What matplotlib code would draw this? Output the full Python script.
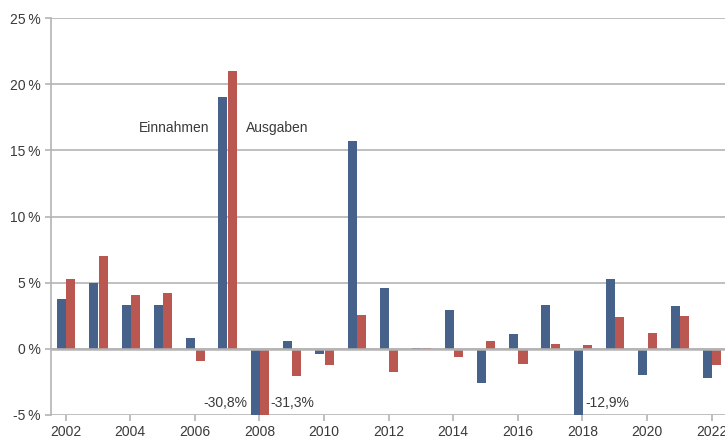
# growth rates of revenue (Einnahmen) and expenditure (Ausgaben)
# importing packages

import numpy as np
import matplotlib.pyplot as plt

# data
years = np.arange(2002, 2023)
einnahmen = [3.75, 5.0, 3.3, 3.3, 0.8, 19.0, -30.8, 0.6, -0.4, 15.7, 4.6,
             0.05, 2.9, -2.6, 1.1, 3.3, -12.9, 5.3, -2.0, 3.2, -2.2]
ausgaben = [5.25, 7.0, 4.1, 4.2, -0.9, 21.0, -31.3, -2.05, -1.2, 2.55, -1.75,
            0.1, -0.6, 0.6, -1.15, 0.35, 0.3, 2.4, 1.2, 2.45, -1.2]
y_ticks = [-5, 0, 5, 10, 15, 20, 25]
x_ticks = list(range(2002, 2023, 2))

blue = '#46618a'
red = '#bb5751'
grid = '#b4b4b4'
text = '#3a3a3a'

plt.rcParams['font.family'] = ['Liberation Sans', 'DejaVu Sans']

fig = plt.figure(figsize=(7.25, 4.41), dpi=100)
ax = fig.add_axes([0.0703, 0.059, 0.94, 0.90])

# bar plot, one bar per series next to each other
w = 0.28
ax.bar(years - 0.13, einnahmen, width=w, color=blue, zorder=3)
ax.bar(years + 0.16, ausgaben, width=w, color=red, zorder=3)

ax.set_xlim(2001.545, 2022.645)
ax.set_ylim(-5, 25)

ax.set_yticks(y_ticks)
ax.set_yticklabels([f'{t}\u2009%' for t in y_ticks])
ax.set_xticks(x_ticks)
ax.set_xticklabels([str(t) for t in x_ticks])

# grid lines and axes styling
ax.yaxis.grid(True, color=grid, linewidth=1.2, zorder=1)
ax.axhline(0, color=grid, linewidth=1.8, zorder=4)
for s in ['top', 'right', 'bottom']:
    ax.spines[s].set_visible(False)
ax.spines['left'].set_color(grid)
ax.spines['left'].set_linewidth(1.2)
ax.tick_params(axis='both', colors=grid, labelcolor=text, labelsize=10,
               length=4, width=1.2)
ax.tick_params(axis='x', pad=3)

# labels of the series
ax.text(2006.44, 16.7, 'Einnahmen', ha='right', va='center', color=text, fontsize=10)
ax.text(2007.58, 16.7, 'Ausgaben', ha='left', va='center', color=text, fontsize=10)

# values of the cut bars
ax.text(2007.62, -4.1, '-30,8%', ha='right', va='center', color=text, fontsize=10,
        zorder=5)
ax.text(2008.33, -4.1, '-31,3%', ha='left', va='center', color=text, fontsize=10,
        zorder=5)
ax.text(2018.08, -4.1, '-12,9%', ha='left', va='center', color=text, fontsize=10,
        zorder=5)

plt.savefig('out.png', dpi=100)
